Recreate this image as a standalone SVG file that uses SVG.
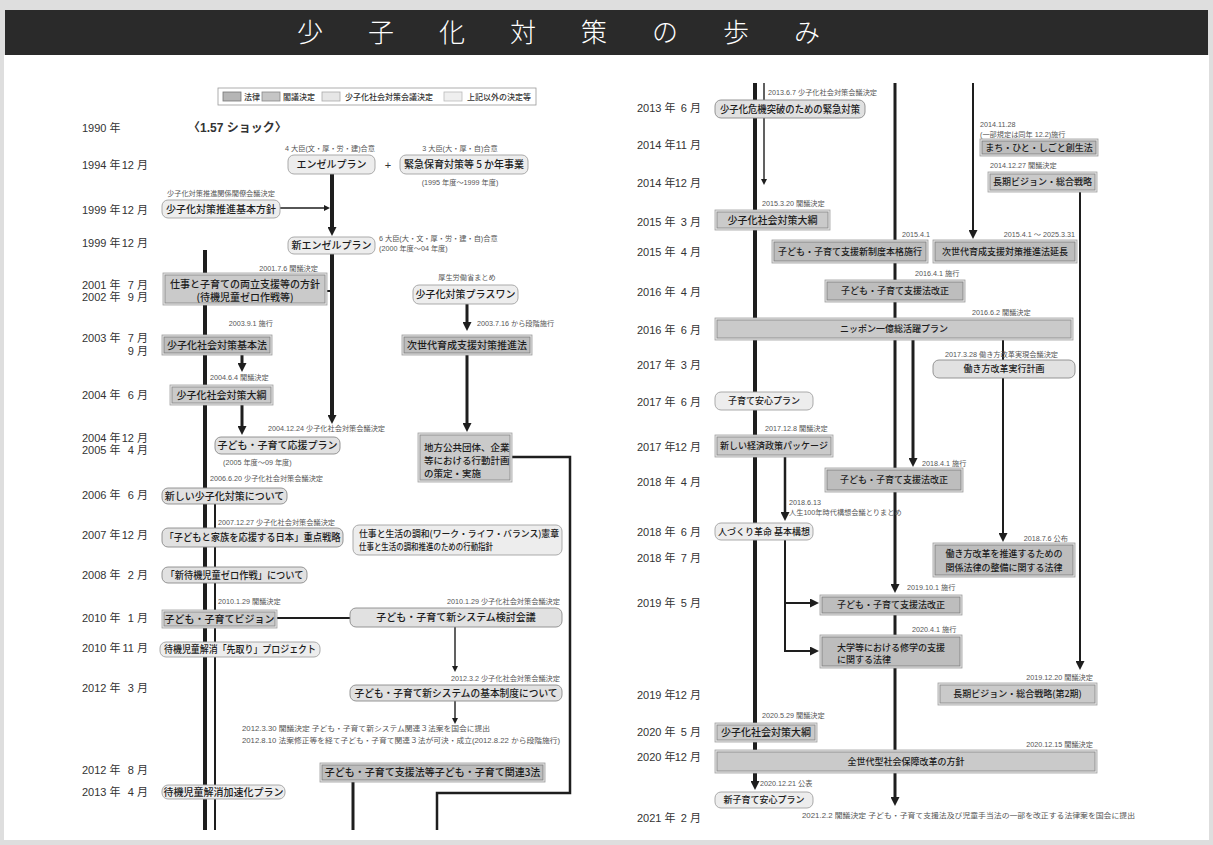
<svg xmlns="http://www.w3.org/2000/svg" width="1213" height="845" viewBox="0 0 1213 845" xml:space="preserve">
<style>
text{font-family:"Liberation Sans","Noto Sans CJK JP",sans-serif}
.yr{font-size:11px;fill:#333}
.mo{font-size:11px;fill:#333;text-anchor:end}
.an{font-size:7.2px;fill:#555}
.ae{text-anchor:end}
.am{text-anchor:middle}
.t{font-family:"Noto Sans CJK JP",sans-serif;font-size:10px;font-weight:500;fill:#1c1c1c;text-anchor:middle}
.t9{font-size:9px}
.t95{font-size:9.5px}
.tl{text-anchor:start}
.lg{font-family:"Noto Sans CJK JP",sans-serif;font-size:8px;fill:#333;font-weight:500}
.lo{fill:#e4e4e4;stroke:#9c9c9c;stroke-width:.8}
.li{fill:#bdbdbd;stroke:#7c7c7c;stroke-width:.8}
.co{fill:#e6e6e6;stroke:#a0a0a0;stroke-width:.8}
.ci{fill:#cacaca;stroke:#858585;stroke-width:.8}
.cn{fill:#e1e1e1;stroke:#8a8a8a;stroke-width:.9}
.ot{fill:#ededed;stroke:#a2a2a2;stroke-width:.9}
.w{fill:none;stroke:#1e1e1e}
.w4{stroke-width:4}.w3{stroke-width:3}.w25{stroke-width:2.5}.w2{stroke-width:2}.w15{stroke-width:1.4}
.ab{marker-end:url(#ab)}.as{marker-end:url(#as)}
</style>
<defs>
<marker id="ab" viewBox="0 0 10 10" refX="4" refY="5" markerWidth="9" markerHeight="9" markerUnits="userSpaceOnUse" orient="auto"><path d="M0,0L10,5L0,10z" fill="#1e1e1e"/></marker>
<marker id="as" viewBox="0 0 10 10" refX="4" refY="5" markerWidth="6" markerHeight="6" markerUnits="userSpaceOnUse" orient="auto"><path d="M0,0L10,5L0,10z" fill="#1e1e1e"/></marker>
</defs>
<rect x="0" y="0" width="1213" height="845" fill="#dedede"/>
<rect x="4" y="55" width="1205" height="785" fill="#ffffff"/>
<g id="title">
<rect x="5" y="10" width="1203" height="45" fill="#2a2a2a"/>
<text x="297" y="42" style="font-family:'Noto Sans CJK JP',sans-serif;font-size:26px;font-weight:300;fill:#fff;letter-spacing:45px">少子化対策の歩み</text>
</g>
<g id="legend">
<rect x="218" y="88" width="318" height="17" fill="#fff" stroke="#999" stroke-width=".8"/>
<rect x="223" y="92" width="18" height="9" fill="#b5b5b5" stroke="#777" stroke-width=".8"/>
<text class="lg" x="244" y="100">法律</text>
<rect x="262" y="92" width="18" height="9" fill="#c5c5c5" stroke="#888" stroke-width=".8"/>
<text class="lg" x="283" y="100">閣議決定</text>
<rect x="322" y="92" width="18" height="9" fill="#e6e6e6" stroke="#aaa" stroke-width=".8"/>
<text class="lg" x="345" y="100">少子化社会対策会議決定</text>
<rect x="444" y="92" width="18" height="9" fill="#efefef" stroke="#bbb" stroke-width=".8"/>
<text class="lg" x="467" y="100">上記以外の決定等</text>
</g>
<g id="years-left">
<text class="yr" x="82" y="132">1990 年</text>
<text class="yr" x="82" y="169">1994 年</text><text class="mo" x="148" y="169">12 月</text>
<text class="yr" x="82" y="214">1999 年</text><text class="mo" x="148" y="214">12 月</text>
<text class="yr" x="82" y="247">1999 年</text><text class="mo" x="148" y="247">12 月</text>
<text class="yr" x="82" y="289">2001 年</text><text class="mo" x="148" y="289">7 月</text>
<text class="yr" x="82" y="301">2002 年</text><text class="mo" x="148" y="301">9 月</text>
<text class="yr" x="82" y="342">2003 年</text><text class="mo" x="148" y="342">7 月</text>
<text class="mo" x="148" y="355">9 月</text>
<text class="yr" x="82" y="399">2004 年</text><text class="mo" x="148" y="399">6 月</text>
<text class="yr" x="82" y="442">2004 年</text><text class="mo" x="148" y="442">12 月</text>
<text class="yr" x="82" y="454">2005 年</text><text class="mo" x="148" y="454">4 月</text>
<text class="yr" x="82" y="499">2006 年</text><text class="mo" x="148" y="499">6 月</text>
<text class="yr" x="82" y="539">2007 年</text><text class="mo" x="148" y="539">12 月</text>
<text class="yr" x="82" y="579">2008 年</text><text class="mo" x="148" y="579">2 月</text>
<text class="yr" x="82" y="622">2010 年</text><text class="mo" x="148" y="622">1 月</text>
<text class="yr" x="82" y="652">2010 年</text><text class="mo" x="148" y="652">11 月</text>
<text class="yr" x="82" y="692">2012 年</text><text class="mo" x="148" y="692">3 月</text>
<text class="yr" x="82" y="774">2012 年</text><text class="mo" x="148" y="774">8 月</text>
<text class="yr" x="82" y="796">2013 年</text><text class="mo" x="148" y="796">4 月</text>
</g>
<g id="years-right">
<text class="yr" x="637" y="112">2013 年</text><text class="mo" x="701" y="112">6 月</text>
<text class="yr" x="637" y="149">2014 年</text><text class="mo" x="701" y="149">11 月</text>
<text class="yr" x="637" y="187">2014 年</text><text class="mo" x="701" y="187">12 月</text>
<text class="yr" x="637" y="226">2015 年</text><text class="mo" x="701" y="226">3 月</text>
<text class="yr" x="637" y="256">2015 年</text><text class="mo" x="701" y="256">4 月</text>
<text class="yr" x="637" y="296">2016 年</text><text class="mo" x="701" y="296">4 月</text>
<text class="yr" x="637" y="334">2016 年</text><text class="mo" x="701" y="334">6 月</text>
<text class="yr" x="637" y="369">2017 年</text><text class="mo" x="701" y="369">3 月</text>
<text class="yr" x="637" y="406">2017 年</text><text class="mo" x="701" y="406">6 月</text>
<text class="yr" x="637" y="451">2017 年</text><text class="mo" x="701" y="451">12 月</text>
<text class="yr" x="637" y="486">2018 年</text><text class="mo" x="701" y="486">4 月</text>
<text class="yr" x="637" y="536">2018 年</text><text class="mo" x="701" y="536">6 月</text>
<text class="yr" x="637" y="562">2018 年</text><text class="mo" x="701" y="562">7 月</text>
<text class="yr" x="637" y="607">2019 年</text><text class="mo" x="701" y="607">5 月</text>
<text class="yr" x="637" y="699">2019 年</text><text class="mo" x="701" y="699">12 月</text>
<text class="yr" x="637" y="736">2020 年</text><text class="mo" x="701" y="736">5 月</text>
<text class="yr" x="637" y="761">2020 年</text><text class="mo" x="701" y="761">12 月</text>
<text class="yr" x="637" y="822">2021 年</text><text class="mo" x="701" y="822">2 月</text>
</g>
<g id="connectors">
<path class="w w4 ab" d="M332,174V230.6"/>
<path class="w w4 ab" d="M332,254V418.6"/>
<path class="w w15 as" d="M280,208H326.4"/>
<path class="w w2" d="M327,291H332"/>
<path class="w w4" d="M205,250V830"/>
<path class="w w2" d="M215,503V830"/>
<path class="w w3 ab" d="M242,355V366.6"/>
<path class="w w3 ab" d="M242,405V429.6"/>
<path class="w w3 ab" d="M467,304V325.6"/>
<path class="w w3 ab" d="M467,355V426.6"/>
<path class="w w25" d="M512,457H570V793H437V830"/>
<path class="w w2" d="M277,618H350"/>
<path class="w w15 as" d="M455,627V668.4"/>
<path class="w w15 as" d="M455,701V720.4"/>
<path class="w w3" d="M353,782V830"/>
<path class="w w4" d="M755,83V750"/>
<path class="w w4 ab" d="M755,773V784.6"/>
<path class="w w15 as" d="M764,83V181.4"/>
<path class="w w3 ab" d="M895,83V587.6"/>
<path class="w w3" d="M895,615V635"/>
<path class="w w3 ab" d="M895,668V800.6"/>
<path class="w w3 ab" d="M913,340V461.6"/>
<path class="w w2 ab" d="M973,83V233.6"/>
<path class="w w2" d="M1003,340V360"/>
<path class="w w2 ab" d="M1003,378V536.6"/>
<path class="w w2 ab" d="M1080,192V664.6"/>
<path class="w w25 ab" d="M785,457V515.6"/>
<path class="w w2 ab" d="M785,540V651H813.6"/>
<path class="w w2 ab" d="M785,603H813.6"/>
</g>
<g id="shock"><text x="188" y="132" style="font-size:12px;font-weight:bold;fill:#333">〈1.57 ショック〉</text></g>
<g id="angel">
<text class="an am" x="330" y="150.5">4 大臣(文・厚・労・建)合意</text>
<rect class="ot" x="288" y="155" width="87" height="19" rx="6"/>
<text class="t" x="331.5" y="168">エンゼルプラン</text>
</g>
<text x="388" y="169" style="font-size:11px;fill:#333" text-anchor="middle">+</text>
<g id="kinkyu">
<text class="an am" x="460" y="150.5">3 大臣(大・厚・自)合意</text>
<rect class="ot" x="400" y="155" width="128" height="19" rx="6"/>
<text class="t" x="464" y="168">緊急保育対策等 5 か年事業</text>
<text class="an am" x="460" y="184.5">(1995 年度～1999 年度)</text>
</g>
<g id="kihonhoshin">
<text class="an" x="167" y="196">少子化対策推進関係閣僚会議決定</text>
<rect class="ot" x="162" y="200" width="118" height="18" rx="6"/>
<text class="t" x="221" y="212.5">少子化対策推進基本方針</text>
</g>
<g id="shin-angel">
<rect class="ot" x="288" y="237" width="87" height="17" rx="6"/>
<text class="t" x="331.5" y="249">新エンゼルプラン</text>
<text class="an" x="379" y="241">6 大臣(大・文・厚・労・建・自)合意</text>
<text class="an" x="379" y="251">(2000 年度～04 年度)</text>
</g>
<g id="ryoritsu">
<text class="an ae" x="318" y="270.5">2001.7.6 閣議決定</text>
<rect class="co" x="163" y="273" width="164" height="32"/>
<rect class="ci" x="165" y="275" width="160" height="28"/>
<text class="t" x="245" y="288">仕事と子育ての両立支援等の方針</text>
<text class="t" x="245" y="301">(待機児童ゼロ作戦等)</text>
</g>
<g id="plusone">
<text class="an am" x="467" y="280">厚生労働省まとめ</text>
<rect class="ot" x="413" y="285" width="105" height="19" rx="6"/>
<text class="t" x="465.5" y="298">少子化対策プラスワン</text>
</g>
<g id="kihonho">
<text class="an ae" x="273" y="326">2003.9.1 施行</text>
<rect class="lo" x="162" y="335" width="110" height="20"/>
<rect class="li" x="164" y="337" width="106" height="16"/>
<text class="t" x="217" y="348.5">少子化社会対策基本法</text>
</g>
<g id="jisedai">
<text class="an" x="477" y="326">2003.7.16 から段階施行</text>
<rect class="lo" x="402" y="335" width="130" height="20"/>
<rect class="li" x="404" y="337" width="126" height="16"/>
<text class="t" x="467" y="348.5">次世代育成支援対策推進法</text>
</g>
<g id="taiko2004">
<text class="an" x="210" y="380">2004.6.4 閣議決定</text>
<rect class="co" x="170" y="385" width="103" height="20"/>
<rect class="ci" x="172" y="387" width="99" height="16"/>
<text class="t" x="221.5" y="398.5">少子化社会対策大綱</text>
</g>
<g id="oen">
<text class="an" x="268" y="431">2004.12.24 少子化社会対策会議決定</text>
<rect class="cn" x="215" y="437" width="125" height="17" rx="6"/>
<text class="t" x="277.5" y="449">子ども・子育て応援プラン</text>
<text class="an" x="223" y="465">(2005 年度～09 年度)</text>
</g>
<g id="chiho">
<rect class="co" x="418" y="433" width="94" height="49"/>
<rect class="ci" x="420" y="435" width="90" height="45"/>
<text class="t t95 tl" x="424" y="450.5">地方公共団体、企業</text>
<text class="t t95 tl" x="424" y="463.5">等における行動計画</text>
<text class="t t95 tl" x="424" y="476.5">の策定・実施</text>
</g>
<g id="atarashii">
<text class="an" x="210" y="481">2006.6.20 少子化社会対策会議決定</text>
<rect class="cn" x="162" y="488" width="125" height="16" rx="6"/>
<text class="t" x="224.5" y="499.5">新しい少子化対策について</text>
</g>
<g id="juten">
<text class="an" x="218" y="524.5">2007.12.27 少子化社会対策会議決定</text>
<rect class="cn" x="162" y="528" width="181" height="19" rx="6"/>
<text class="t" x="252.5" y="541" textLength="176" lengthAdjust="spacingAndGlyphs">「子どもと家族を応援する日本」重点戦略</text>
</g>
<g id="wlb">
<rect class="ot" x="353" y="525" width="209" height="30" rx="6"/>
<text class="t t9 tl" x="359" y="537" textLength="200" lengthAdjust="spacingAndGlyphs">仕事と生活の調和(ワーク・ライフ・バランス)憲章</text>
<text class="t t9 tl" x="359" y="549.5" textLength="134" lengthAdjust="spacingAndGlyphs">仕事と生活の調和推進のための行動指針</text>
</g>
<g id="zero">
<rect class="cn" x="162" y="567" width="145" height="16" rx="6"/>
<text class="t" x="234.5" y="578.5" textLength="138" lengthAdjust="spacingAndGlyphs">「新待機児童ゼロ作戦」について</text>
</g>
<g id="vision">
<text class="an" x="218" y="604">2010.1.29  閣議決定</text>
<rect class="co" x="162" y="610" width="115" height="18"/>
<rect class="ci" x="164" y="612" width="111" height="14"/>
<text class="t" x="219.5" y="622.5">子ども・子育てビジョン</text>
</g>
<g id="kento">
<text class="an ae" x="560" y="604">2010.1.29  少子化社会対策会議決定</text>
<rect class="cn" x="350" y="608" width="212" height="19" rx="6"/>
<text class="t" x="456" y="621">子ども・子育て新システム検討会議</text>
</g>
<g id="sakidori">
<rect class="ot" x="160" y="642" width="160" height="15" rx="6"/>
<text class="t" x="240" y="653" textLength="152" lengthAdjust="spacingAndGlyphs">待機児童解消「先取り」プロジェクト</text>
</g>
<g id="kihonseido">
<text class="an ae" x="560" y="681">2012.3.2  少子化社会対策会議決定</text>
<rect class="cn" x="350" y="685" width="212" height="16" rx="6"/>
<text class="t" x="456" y="696.5" textLength="203" lengthAdjust="spacingAndGlyphs">子ども・子育て新システムの基本制度について</text>
</g>
<g id="note2012">
<text class="an" x="242" y="731" textLength="248" lengthAdjust="spacingAndGlyphs">2012.3.30  閣議決定  子ども・子育て新システム関連３法案を国会に提出</text>
<text class="an" x="242" y="743" textLength="318" lengthAdjust="spacingAndGlyphs">2012.8.10  法案修正等を経て子ども・子育て関連３法が可決・成立(2012.8.22 から段階施行)</text>
</g>
<g id="kanren3">
<rect class="lo" x="320" y="763" width="225" height="19"/>
<rect class="li" x="322" y="765" width="221" height="15"/>
<text class="t" x="432.5" y="776">子ども・子育て支援法等子ども・子育て関連3法</text>
</g>
<g id="kasokuka">
<rect class="ot" x="162" y="785" width="123" height="14" rx="6"/>
<text class="t" x="223.5" y="795.5">待機児童解消加速化プラン</text>
</g>
<g id="kiki">
<text class="an" x="768" y="94.5">2013.6.7  少子化社会対策会議決定</text>
<rect class="cn" x="715" y="100" width="150" height="18" rx="6"/>
<text class="t" x="790" y="112.5" textLength="140" lengthAdjust="spacingAndGlyphs">少子化危機突破のための緊急対策</text>
</g>
<g id="machi">
<text class="an" x="980" y="127">2014.11.28</text>
<text class="an" x="980" y="136.5">(一部規定は同年 12.2)施行</text>
<rect class="lo" x="980" y="139" width="118" height="17"/>
<rect class="li" x="982" y="141" width="114" height="13"/>
<text class="t t9" x="1039" y="150.8">まち・ひと・しごと創生法</text>
</g>
<g id="choki">
<text class="an" x="990" y="167.5">2014.12.27  閣議決定</text>
<rect class="co" x="988" y="172" width="109" height="20"/>
<rect class="ci" x="990" y="174" width="105" height="16"/>
<text class="t t9" x="1042.5" y="185.2">長期ビジョン・総合戦略</text>
</g>
<g id="taiko2015">
<text class="an" x="762" y="206">2015.3.20  閣議決定</text>
<rect class="co" x="715" y="210" width="115" height="20"/>
<rect class="ci" x="717" y="212" width="111" height="16"/>
<text class="t" x="772.5" y="223.5">少子化社会対策大綱</text>
</g>
<g id="shinseido">
<text class="an" x="902" y="237">2015.4.1</text>
<rect class="lo" x="772" y="240" width="156" height="23"/>
<rect class="li" x="774" y="242" width="152" height="19"/>
<text class="t t9" x="850" y="254.8">子ども・子育て支援新制度本格施行</text>
</g>
<g id="jisedai-encho">
<text class="an ae" x="1075" y="237">2015.4.1 ～ 2025.3.31</text>
<rect class="lo" x="933" y="240" width="144" height="23"/>
<rect class="li" x="935" y="242" width="140" height="19"/>
<text class="t t9" x="1005" y="254.8">次世代育成支援対策推進法延長</text>
</g>
<g id="kaisei2016">
<text class="an" x="915" y="276">2016.4.1  施行</text>
<rect class="lo" x="825" y="280" width="140" height="22"/>
<rect class="li" x="827" y="282" width="136" height="18"/>
<text class="t t9" x="895" y="294.3">子ども・子育て支援法改正</text>
</g>
<g id="nippon">
<text class="an" x="972" y="314.5">2016.6.2  閣議決定</text>
<rect class="co" x="715" y="318" width="358" height="22"/>
<rect class="ci" x="717" y="320" width="354" height="18"/>
<text class="t t9" x="894" y="332.3">ニッポン一億総活躍プラン</text>
</g>
<g id="hatarakikata-plan">
<text class="an" x="945" y="357">2017.3.28  働き方改革実現会議決定</text>
<rect class="cn" x="933" y="360" width="142" height="18" rx="6"/>
<text class="t t9" x="1004" y="372.3">働き方改革実行計画</text>
</g>
<g id="anshin">
<rect class="ot" x="715" y="392" width="98" height="18" rx="6"/>
<text class="t t9" x="764" y="404.3">子育て安心プラン</text>
</g>
<g id="keizai">
<text class="an" x="765" y="431">2017.12.8  閣議決定</text>
<rect class="co" x="715" y="435" width="118" height="22"/>
<rect class="ci" x="717" y="437" width="114" height="18"/>
<text class="t t9" x="774" y="449.3">新しい経済政策パッケージ</text>
</g>
<g id="kaisei2018">
<text class="an" x="922" y="466">2018.4.1  施行</text>
<rect class="lo" x="825" y="468" width="138" height="24"/>
<rect class="li" x="827" y="470" width="134" height="20"/>
<text class="t t9" x="894" y="483.3">子ども・子育て支援法改正</text>
</g>
<g id="hitozukuri">
<text class="an" x="789" y="505">2018.6.13</text>
<text class="an" x="789" y="515">人生100年時代構想会議とりまとめ</text>
<rect class="ot" x="715" y="523" width="98" height="17" rx="6"/>
<text class="t t9" x="764" y="534.8">人づくり革命 基本構想</text>
</g>
<g id="hatarakikata-ho">
<text class="an ae" x="1068" y="541">2018.7.6  公布</text>
<rect class="lo" x="933" y="543" width="142" height="34"/>
<rect class="li" x="935" y="545" width="138" height="30"/>
<text class="t t9" x="1004" y="557">働き方改革を推進するための</text>
<text class="t t9" x="1004" y="570.5">関係法律の整備に関する法律</text>
</g>
<g id="kaisei2019">
<text class="an" x="907" y="590">2019.10.1  施行</text>
<rect class="lo" x="820" y="595" width="142" height="20"/>
<rect class="li" x="822" y="597" width="138" height="16"/>
<text class="t t9" x="891" y="608.3">子ども・子育て支援法改正</text>
</g>
<g id="daigaku">
<text class="an" x="912" y="632">2020.4.1  施行</text>
<rect class="lo" x="820" y="635" width="142" height="33"/>
<rect class="li" x="822" y="637" width="138" height="29"/>
<text class="t t9 tl" x="837" y="650.5">大学等における修学の支援</text>
<text class="t t9 tl" x="837" y="663">に関する法律</text>
</g>
<g id="choki2">
<text class="an ae" x="1093" y="680">2019.12.20  閣議決定</text>
<rect class="co" x="938" y="683" width="159" height="22"/>
<rect class="ci" x="940" y="685" width="155" height="18"/>
<text class="t t9" x="1017.5" y="697.3">長期ビジョン・総合戦略(第2期)</text>
</g>
<g id="taiko2020">
<text class="an" x="762" y="718">2020.5.29  閣議決定</text>
<rect class="co" x="715" y="723" width="102" height="19"/>
<rect class="ci" x="717" y="725" width="98" height="15"/>
<text class="t" x="766" y="736">少子化社会対策大綱</text>
</g>
<g id="zensedai">
<text class="an ae" x="1093" y="747">2020.12.15  閣議決定</text>
<rect class="co" x="715" y="750" width="382" height="23"/>
<rect class="ci" x="717" y="752" width="378" height="19"/>
<text class="t t9" x="906" y="764.8">全世代型社会保障改革の方針</text>
</g>
<g id="shin-anshin">
<text class="an" x="760" y="786">2020.12.21  公表</text>
<rect class="ot" x="715" y="792" width="98" height="16" rx="6"/>
<text class="t t9" x="764" y="803.3">新子育て安心プラン</text>
</g>
<g id="note2021">
<text class="an" x="802" y="818" textLength="333" lengthAdjust="spacingAndGlyphs">2021.2.2  閣議決定  子ども・子育て支援法及び児童手当法の一部を改正する法律案を国会に提出</text>
</g>
</svg>
